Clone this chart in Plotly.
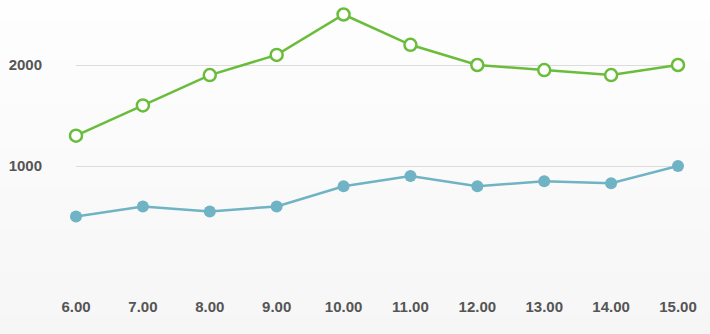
import plotly.graph_objects as go

categories = ["6.00", "7.00", "8.00", "9.00", "10.00", "11.00", "12.00", "13.00", "14.00", "15.00"]
series_green = [1300, 1600, 1900, 2100, 2500, 2200, 2000, 1950, 1900, 2000]
series_blue = [500, 600, 550, 600, 800, 900, 800, 850, 830, 1000]
y_ticks = [1000, 2000]
y_tick_labels = ["1000", "2000"]

GREEN = "#6abd3b"
BLUE = "#6fb3c4"

fig = go.Figure()
fig.add_trace(go.Scatter(
    x=categories, y=series_blue, mode="lines+markers",
    line=dict(color=BLUE, width=2.5),
    marker=dict(color=BLUE, size=12, line=dict(width=0)),
    cliponaxis=False, showlegend=False,
))
fig.add_trace(go.Scatter(
    x=categories, y=series_green, mode="lines+markers",
    line=dict(color=GREEN, width=2.5),
    marker=dict(color="white", size=12, line=dict(color=GREEN, width=2.5)),
    cliponaxis=False, showlegend=False,
))

# soft vertical background gradient (white at top, light grey at bottom)
shapes = []
n = 16
top, bottom = 1.02, -0.26
for i in range(n):
    y1 = top - (top - bottom) * i / n
    y0 = top - (top - bottom) * (i + 1) / n
    v = int(round(254 - (254 - 246) * i / (n - 1)))
    shapes.append(dict(type="rect", xref="paper", yref="paper",
                       x0=-0.2, x1=1.2, y0=y0 - 0.002, y1=y1,
                       fillcolor=f"rgb({v},{v},{v})", line=dict(width=0), layer="below"))

tick_font = dict(family="Liberation Sans, Arial, sans-serif", size=15, color="#555555", weight="bold")

fig.update_layout(
    width=710, height=334,
    margin=dict(l=76, r=32, t=4, b=67),
    paper_bgcolor="#f6f6f6",
    plot_bgcolor="rgba(0,0,0,0)",
    shapes=shapes,
    xaxis=dict(
        type="category", range=[0, 9], showgrid=False, zeroline=False, showline=False,
        ticks="", ticklabelstandoff=29, tickfont=tick_font,
    ),
    yaxis=dict(
        range=[0, 2604], tickvals=y_ticks, ticktext=y_tick_labels,
        showgrid=True, gridcolor="#dcdcdc", gridwidth=1, zeroline=False, showline=False,
        ticks="", ticklabelstandoff=33, tickfont=tick_font,
    ),
)

fig.write_html("out.html")
